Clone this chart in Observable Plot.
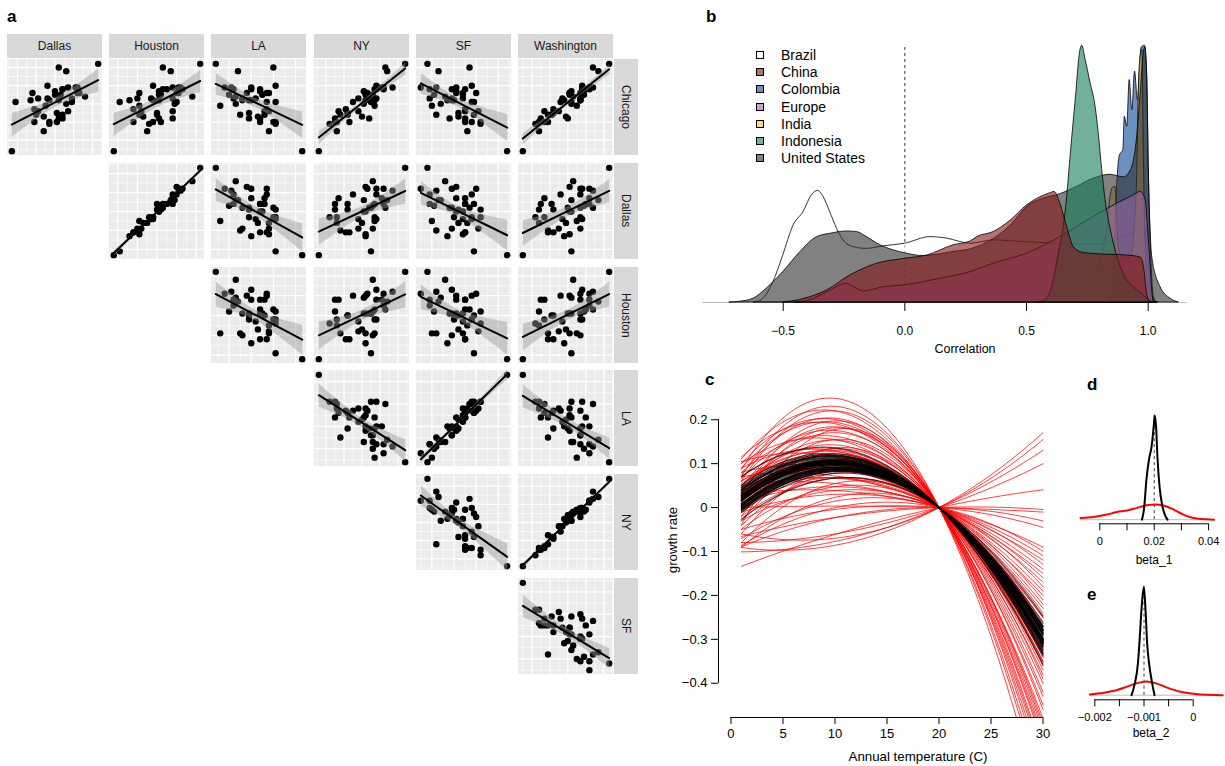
<!DOCTYPE html>
<html>
<head>
<meta charset="utf-8">
<script src="https://cdn.jsdelivr.net/npm/d3@7"></script>
<script src="https://cdn.jsdelivr.net/npm/@observablehq/plot@0.6"></script>
<style>
html,body{margin:0;padding:0;background:#fff;}
#root{position:relative;width:1225px;height:766px;overflow:hidden;font-family:"Liberation Sans",Arial,Helvetica,sans-serif;color:#000;}
.t{position:absolute;white-space:nowrap;line-height:1;}
.strip{position:absolute;background:#D9D9D9;color:#1A1A1A;font-size:12px;display:flex;align-items:center;justify-content:center;}
.letter{position:absolute;font-weight:bold;font-size:17px;line-height:1;font-family:"Liberation Sans",Arial,sans-serif;}
</style>
</head>
<body>
<div id="root"></div>
<script>
// ---------------- Panel a data (yearly values per city) ----------------
const colCities = ["Dallas","Houston","LA","NY","SF","Washington"];
const rowCities = ["Chicago","Dallas","Houston","LA","NY","SF"];
const chicago    = [-2.6,2.2,0.1,0.9,-0.5,1.0,-0.4,0.9,-0.4,0.6,0.3,0.5,-1.5,0.6,0.1,-0.8,2.0,-0.6,0.0,-0.3,0.6,-1.0,0.8,-1.1,0.8,0.7,-0.1,-1.0,0.2,0.5,0.4,-0.7,1.8,-1.0,0.3,-0.6,0.2,0.2,0.8,-0.8,0.3,0.9];
const dallas     = [-2.3,2.3,-2.1,0.7,0.1,-0.4,0.7,1.2,-0.9,1.3,-0.9,0.3,-0.6,-1.2,0.9,0.2,0.2,-1.0,0.6,-1.1,1.2,-0.3,0.4,-0.3,1.2,0.0,-0.5,-1.1,0.2,0.0,1.6,-0.6,0.6,0.1,0.9,0.4,-0.3,-1.3,0.4,0.4,-0.4,1.1];
const houston    = [-2.2,2.2,-1.9,0.8,0.0,-0.2,0.8,1.1,-0.8,1.0,-1.0,0.2,-0.5,-0.9,1.0,0.1,0.3,-0.9,0.9,-1.2,1.1,-0.2,0.5,-0.4,1.3,0.1,-0.9,-1.2,0.1,0.1,1.8,-0.7,0.7,0.2,0.8,0.0,-0.2,-1.4,0.3,0.8,-0.3,1.2];
const la         = [2.3,-1.6,1.1,0.0,-0.1,1.1,0.6,-1.2,0.8,-0.2,-0.4,-1.0,0.8,0.8,0.7,-0.1,1.0,-0.5,-0.7,0.7,0.7,1.0,-0.8,1.1,0.0,0.4,-1.4,0.4,-0.4,0.5,-0.7,0.3,-0.6,1.1,-0.8,0.6,-0.1,0.0,0.4,0.4,0.2,-0.9];
const ny         = [-2.4,2.4,0.5,1.1,-0.8,0.8,-1.3,1.2,-0.2,0.2,0.6,0.6,-1.4,0.2,-0.5,0.4,1.3,-1.2,0.1,-0.9,0.3,-1.4,1.2,-1.8,0.8,0.1,0.7,-0.7,0.5,0.2,0.6,0.0,1.4,-1.5,0.8,-0.8,0.7,0.2,0.7,-1.5,-0.2,1.7];
const sf         = [2.4,-1.2,0.9,0.1,0.2,0.8,0.5,-1.5,1.1,0.1,-0.1,-0.9,0.6,0.4,0.8,-0.2,0.7,-0.8,-0.6,0.5,1.0,0.8,-1.1,1.2,-0.1,0.1,-1.0,0.5,-0.1,0.4,-0.4,0.2,-0.7,1.2,-1.1,0.9,0.0,-0.3,0.5,0.5,0.4,-0.8];
const washington = [-2.5,2.3,0.2,1.2,-0.8,0.8,-1.3,1.2,-0.5,0.1,0.7,0.9,-1.6,0.1,-0.4,0.0,1.4,-1.1,0.2,-0.8,0.7,-1.3,1.2,-1.8,0.8,0.2,0.5,-1.1,0.7,0.1,0.3,-0.1,1.7,-1.6,0.7,-0.9,0.7,-0.2,1.0,-1.5,-0.3,1.4];
const citySeries = {Chicago:chicago, Dallas:dallas, Houston:houston, LA:la, NY:ny, SF:sf, Washington:washington};

// ---------------- Panel b data (density curves of correlation) ----------------
const countries = ["Brazil","China","Colombia","Europe","India","Indonesia","United States"];
const brazilDens = [[-0.62,0],[-0.595,0.05],[-0.54,0.8],[-0.5,1.84],[-0.458,3.0],[-0.416,3.55],[-0.382,4.2],[-0.357,4.37],[-0.334,4.13],[-0.307,3.54],[-0.279,2.89],[-0.252,2.43],[-0.211,2.17],[-0.156,2.1],[-0.087,2.2],[0,2.3],[0.105,2.56],[0.174,2.5],[0.27,2.3],[0.365,2.43],[0.5,2.36],[0.64,2.3],[0.776,2.27],[0.832,2.3],[0.886,2.5],[0.942,2.76],[0.969,3.1],[0.986,2.95],[1.0,1.9],[1.01,0.6],[1.024,0.1],[1.04,0]];
const chinaDens = [[-0.5,0],[-0.43,0.1],[-0.361,0.3],[-0.32,0.47],[-0.224,1.06],[-0.114,1.52],[0,1.71],[0.092,1.84],[0.2,2.24],[0.27,2.39],[0.297,2.56],[0.365,2.76],[0.434,3.2],[0.502,3.8],[0.557,4.12],[0.598,4.28],[0.615,4.33],[0.639,3.87],[0.667,2.95],[0.694,2.17],[0.73,1.95],[0.776,1.9],[0.914,1.84],[0.969,1.76],[0.983,1.37],[0.996,0.33],[1.01,0]];
const colombiaDens = [[0.84,0],[0.86,1.5],[0.873,4.65],[0.884,5.76],[0.898,5.96],[0.904,7.27],[0.914,6.88],[0.924,8.71],[0.935,7.53],[0.946,9.04],[0.958,7.92],[0.973,9.98],[0.987,10.05],[0.996,9.0],[1.003,5.05],[1.013,1.76],[1.024,0.2],[1.035,0]];
const europeDens = [[-0.45,0],[-0.40,0.05],[-0.32,0.4],[-0.238,0.73],[-0.2,0.55],[-0.17,0.43],[-0.087,0.6],[0,0.67],[0.146,0.93],[0.27,1.19],[0.365,1.52],[0.502,1.91],[0.639,2.56],[0.776,3.35],[0.873,3.87],[0.942,4.2],[0.969,4.33],[0.99,4.0],[1.003,2.43],[1.024,0],[1.04,0]];
const indiaDens = [[0.74,0],[0.776,0.6],[0.804,1.64],[0.832,2.95],[0.845,4.12],[0.856,4.5],[0.866,4.52],[0.872,3.5],[0.88,2.2],[0.9,1.6],[0.93,1.8],[0.945,3.0],[0.955,5.0],[0.962,8.5],[0.97,9.7],[0.976,9.9],[0.982,6.0],[0.99,2.0],[1.0,0.8],[1.01,0.2],[1.024,0]];
const indonesiaDens = [[0.54,0],[0.578,0.08],[0.612,0.86],[0.633,1.9],[0.653,2.95],[0.667,4.12],[0.681,5.7],[0.702,7.9],[0.722,9.9],[0.729,10.05],[0.743,9.5],[0.763,8.6],[0.784,7.66],[0.797,6.6],[0.811,5.2],[0.825,4.0],[0.845,2.9],[0.87,1.9],[0.9,1.1],[0.94,0.6],[0.98,0.3],[1.0,0.1],[1.02,0]];
const usDens = [[-0.72,0],[-0.677,0.03],[-0.622,0.15],[-0.567,0.55],[-0.5,1.19],[-0.43,1.97],[-0.361,2.56],[-0.307,2.69],[-0.238,2.78],[-0.197,2.76],[-0.156,2.56],[-0.101,2.24],[-0.046,2.04],[0.009,1.91],[0.071,1.82],[0.14,1.88],[0.2,1.98],[0.27,2.08],[0.365,2.49],[0.434,3.0],[0.502,3.74],[0.571,4.07],[0.639,4.24],[0.708,4.53],[0.776,4.85],[0.845,5.0],[0.9,4.9],[0.93,5.2],[0.955,6.5],[0.97,8.3],[0.98,9.6],[0.988,10.0],[0.996,8.7],[1.003,5.05],[1.017,1.76],[1.051,0.6],[1.092,0.15],[1.126,0]];
const corrTicks = [-0.5,0,0.5,1];
const corrRange = [-0.83,1.16];

// ---------------- Panel c data (fitted coefficients) ----------------
const redBeta1 = [0.0428,0.0409,0.0407,0.0320,0.0345,0.0387,0.0350,0.0295,0.0362,0.0296,0.0243,0.0351,0.0290,0.0239,0.0295,0.0244,0.0310,0.0184,0.0250,0.0315,0.0190,0.0214,0.0248,0.0182,0.0143,0.0254,0.0196,0.0148,0.0268,0.0161,0.0086,0.0192,0.0126,0.0159,0.0197,0.0072,0.0115,0.0212,0.0087,0.0143,0.0045,0.0092,0.0158,0.0042,0.0089,0.0150,0.0038,0.0078,0.0103,0.0007,0.0063,0.0092,0.0000,-0.0003,-0.0058,-0.0041,0.0221,0.0159,0.0253,0.0197,0.0192,0.0212,0.0215,0.0167,0.0414,0.0485,0.0293,0.0338];
const redBeta2 = [-0.002256,-0.002098,-0.002015,-0.001800,-0.001829,-0.001895,-0.001780,-0.001630,-0.001724,-0.001572,-0.001446,-0.001622,-0.001479,-0.001338,-0.001430,-0.001289,-0.001399,-0.001129,-0.001240,-0.001350,-0.001080,-0.001109,-0.001156,-0.001004,-0.000906,-0.001107,-0.000973,-0.000857,-0.001076,-0.000842,-0.000672,-0.000864,-0.000711,-0.000759,-0.000815,-0.000544,-0.000610,-0.000784,-0.000514,-0.000606,-0.000390,-0.000465,-0.000575,-0.000323,-0.000397,-0.000499,-0.000256,-0.000246,-0.000267,-0.0000345,-0.000135,-0.000103,0.000200,0.000267,0.000426,0.000423,-0.001102,-0.000858,-0.001207,-0.001015,-0.001064,-0.000984,-0.001151,-0.000835,-0.002149,-0.002210,-0.001646,-0.001695];
const blackBeta1 = [0.0200,0.0195,0.0205,0.0198,0.0203,0.0190,0.0210,0.0201,0.0197,0.0206,0.0193,0.0208,0.0199,0.0202,0.0188,0.0212,0.0196,0.0204,0.0200,0.0194,0.0207,0.0198,0.0201,0.0191,0.0209,0.0203,0.0197,0.0205,0.0199,0.0202,0.0196,0.0201,0.0204,0.0198,0.0200,0.0194,0.0203,0.0192,0.0207,0.0199,0.0202,0.0195,0.0206,0.0200,0.0197];
const blackBeta2 = [-0.00100,-0.00104,-0.00097,-0.00106,-0.00095,-0.00099,-0.00102,-0.00093,-0.00101,-0.00108,-0.00096,-0.00100,-0.00103,-0.00098,-0.00092,-0.00105,-0.00099,-0.00101,-0.00094,-0.00102,-0.00097,-0.00107,-0.00100,-0.00098,-0.00103,-0.00096,-0.00101,-0.00099,-0.00105,-0.00097,-0.00100,-0.00102,-0.00098,-0.00095,-0.00101,-0.00110,-0.00090,-0.00100,-0.00104,-0.00099,-0.00101,-0.00103,-0.00098,-0.00102,-0.00100];
const refTemp = 20;
const tempRange = [1,30];
const tempTicks = [0,5,10,15,20,25,30];
const growthTicks = [-0.4,-0.3,-0.2,-0.1,0,0.1,0.2];

// ---------------- Panels d, e data (densities of coefficients) ----------------
const beta1Black = [[0.0155,0],[0.0163,45],[0.0171,149],[0.0181,233],[0.0190,278],[0.0198,356],[0.0202,401],[0.0207,356],[0.0212,239],[0.0220,123],[0.0229,58],[0.0239,19],[0.0249,0]];
const beta1Red = [[-0.0071,6.5],[-0.0022,10.3],[0.0027,19.4],[0.0063,29.7],[0.0100,34.9],[0.0137,45.3],[0.0173,55.6],[0.0204,58.2],[0.0234,54.3],[0.0271,38.8],[0.0307,19.4],[0.0344,6.5],[0.0393,1.3],[0.0420,0]];
const beta2Black = [[-0.001254,0],[-0.001193,762],[-0.001125,2286],[-0.001085,4318],[-0.001051,6350],[-0.001003,8000],[-0.00097,6350],[-0.000936,3810],[-0.000895,2286],[-0.000841,1016],[-0.000786,0]];
const beta2Red = [[-0.0021,51],[-0.001817,178],[-0.001546,381],[-0.001342,635],[-0.001139,889],[-0.000949,1016],[-0.000766,889],[-0.000529,559],[-0.000258,254],[0.000014,102],[0.000285,25],[0.0006,0]];
const beta1True = 0.02, beta2True = -0.001;
const beta1Ticks = [0,0.01,0.02,0.03,0.04];
const beta1Labels = ["0","","0.02","","0.04"];
const beta2Ticks = [-0.002,-0.0015,-0.001,-0.0005,0];
const beta2Labels = ["\u22120.002","","\u22120.001","","0"];

// ================= drawing =================
const root = document.getElementById("root");
const FONT = '"Liberation Sans",Arial,Helvetica,sans-serif';
function put(svg, left, top) {
  svg.style.position = "absolute";
  svg.style.left = left + "px";
  svg.style.top = top + "px";
  svg.style.overflow = "visible";
  root.appendChild(svg);
  return svg;
}
function label(str, cx, cy, size, extra) {
  const d = document.createElement("div");
  d.className = "t";
  d.textContent = str;
  d.style.left = cx + "px";
  d.style.top = cy + "px";
  d.style.fontSize = size + "px";
  d.style.transform = "translate(-50%,-50%)" + (extra || "");
  root.appendChild(d);
  return d;
}
function letter(str, left, top) {
  const d = document.createElement("div");
  d.className = "letter";
  d.textContent = str;
  d.style.left = left + "px";
  d.style.top = top + "px";
  root.appendChild(d);
}

// ---- panel a ----
const colLeft = [7,109,211,314,416,518];
const rowTop = [59,163,267,370,474,578];
const cellW = 95, cellH = 96;
function expand5(ext){const r = ext[1]-ext[0]; return [ext[0]-0.05*r, ext[1]+0.05*r];}
function minorTicks(major, dom){
  const step = major[1]-major[0], out = [];
  for (let v = major[0]-step/2; v <= dom[1]; v += step) if (v >= dom[0]) out.push(v);
  return out;
}
function cell(xs, ys){
  const pts = xs.map((x,i)=>({x, y: ys[i]}));
  const xd = expand5(d3.extent(xs)), yd = expand5(d3.extent(ys));
  const xM = d3.ticks(xd[0], xd[1], 4), yM = d3.ticks(yd[0], yd[1], 4);
  return Plot.plot({
    width: cellW, height: cellH, margin: 0,
    x: {domain: xd, axis: null}, y: {domain: yd, axis: null},
    style: {background: "#EBEBEB", overflow: "visible"},
    marks: [
      Plot.ruleX(minorTicks(xM, xd), {stroke: "#fff", strokeWidth: 0.6}),
      Plot.ruleY(minorTicks(yM, yd), {stroke: "#fff", strokeWidth: 0.6}),
      Plot.ruleX(xM, {stroke: "#fff", strokeWidth: 1.3}),
      Plot.ruleY(yM, {stroke: "#fff", strokeWidth: 1.3}),
      Plot.dot(pts, {x: "x", y: "y", r: 3.2, fill: "#000"}),
      Plot.linearRegressionY(pts, {x: "x", y: "y", stroke: "#000", strokeWidth: 2, fill: "#999", fillOpacity: 0.45, clip: true})
    ]
  });
}
rowCities.forEach((rc, j) => {
  colCities.forEach((cc, i) => {
    if (i < j) return;
    put(cell(citySeries[cc], citySeries[rc]), colLeft[i], rowTop[j]);
  });
});
colCities.forEach((cc, i) => {
  const s = document.createElement("div");
  s.className = "strip";
  s.style.cssText += `left:${colLeft[i]}px;top:34px;width:${cellW}px;height:24px;`;
  s.textContent = cc;
  root.appendChild(s);
});
rowCities.forEach((rc, j) => {
  const s = document.createElement("div");
  s.className = "strip";
  s.style.cssText += `left:614px;top:${rowTop[j]}px;width:24px;height:${cellH}px;`;
  const sp = document.createElement("span");
  sp.style.writingMode = "vertical-rl";
  sp.textContent = rc;
  s.appendChild(sp);
  root.appendChild(s);
});

// ---- panel b ----
const densB = {"Brazil": brazilDens, "China": chinaDens, "Colombia": colombiaDens, "Europe": europeDens, "India": indiaDens, "Indonesia": indonesiaDens, "United States": usDens};
const fillB = {"Brazil": "#FFFFFF", "China": "#821414", "Colombia": "#0A4696", "Europe": "#9664A0", "India": "#F5BE28", "Indonesia": "#147D55", "United States": "#2D2D2D"};
const legendB = {"Brazil": "#FFFFFF", "China": "#B46E6E", "Colombia": "#6C90C0", "Europe": "#CCA2CC", "India": "#F9D87E", "Indonesia": "#72B199", "United States": "#818181"};
const drawOrder = ["Brazil","Colombia","India","United States","Europe","Indonesia","China"];
const maxDens = d3.max(countries, c => d3.max(densB[c], d => d[1]));
const bPlot = Plot.plot({
  width: 500, height: 332, marginLeft: 0, marginRight: 0, marginTop: 0, marginBottom: 60,
  x: {domain: [-0.881, 1.174], ticks: corrTicks, tickFormat: d3.format(".1f"), tickSize: 9, tickPadding: 15, label: null},
  y: {domain: [0, 10.65], axis: null},
  style: {fontSize: "12px", fontFamily: FONT, background: "transparent", overflow: "visible"},
  marks: [
    Plot.ruleY([0], {x1: corrRange[0], x2: corrRange[1], stroke: "#BEBEBE", strokeWidth: 1}),
    Plot.ruleX([0], {y1: 0, y2: maxDens, stroke: "#000", strokeWidth: 0.8, strokeDasharray: "3,3"}),
    ...drawOrder.map(c => Plot.areaY(densB[c], {x: d => d[0], y: d => d[1], fill: fillB[c], fillOpacity: 0.6, stroke: "#000", strokeWidth: 0.8, curve: "monotone-x"}))
  ]
});
put(bPlot, 690, 30);
countries.forEach((c, k) => {
  const y = 55 + k * 17.2;
  const box = document.createElement("div");
  box.style.cssText = `position:absolute;left:756px;top:${y-4}px;width:8px;height:8px;box-sizing:border-box;border:1px solid #000;background:${legendB[c]};`;
  root.appendChild(box);
  const t = document.createElement("div");
  t.className = "t";
  t.textContent = c;
  t.style.cssText += `left:781px;top:${y}px;font-size:14px;transform:translateY(-50%);`;
  root.appendChild(t);
});
label("Correlation", 965, 349, 12.5);

// ---- panel c ----
const temps = d3.range(tempRange[0], tempRange[1] + 0.001, 0.25);
function curves(b1s, b2s){
  return b1s.flatMap((b1, k) => temps.map(T => ({k, T, g: b1 * (T - refTemp) + b2s[k] * (T * T - refTemp * refTemp)})));
}
const cX = [-1.2, 31.2], cY = [-0.478, 0.278];
const cPlot = Plot.plot({
  width: 400, height: 391, marginLeft: 58, marginRight: 5, marginTop: 10, marginBottom: 49,
  x: {domain: cX, ticks: tempTicks, tickSize: 7, tickPadding: 4, label: null},
  y: {domain: cY, ticks: growthTicks, tickSize: 7, tickPadding: 4, label: null, tickFormat: d => d === 0 ? "0" : d3.format(".1f")(d)},
  style: {fontSize: "13px", fontFamily: FONT, background: "transparent", overflow: "visible"},
  marks: [
    Plot.line(curves(redBeta1, redBeta2), {x: "T", y: "g", z: "k", stroke: "#FF0000", strokeWidth: 0.9, strokeOpacity: 0.85, clip: true}),
    Plot.line(curves(blackBeta1, blackBeta2), {x: "T", y: "g", z: "k", stroke: "#000", strokeWidth: 1.2, strokeOpacity: 0.7, clip: true}),
    Plot.ruleX([cX[0]], {y1: growthTicks[0], y2: growthTicks[growthTicks.length-1], stroke: "#000"}),
    Plot.ruleY([cY[0]], {x1: tempTicks[0], x2: tempTicks[tempTicks.length-1], stroke: "#000"})
  ]
});
put(cPlot, 660, 375);
label("Annual temperature (C)", 918, 757, 13.3);
label("growth rate", 673, 540, 13.3, " rotate(-90deg)");

// ---- panels d, e ----
function densPanel(black, red, truth, ticks, labels, xdom, ydom, mt, mb){
  const ext = d3.extent([...black, ...red], d => d[0]);
  return Plot.plot({
    width: 159, height: 170, marginLeft: 10, marginRight: 7, marginTop: mt, marginBottom: mb,
    x: {domain: xdom, ticks: ticks, tickSize: 7, tickPadding: 6, label: null, tickFormat: d => labels[ticks.indexOf(d)]},
    y: {domain: ydom, axis: null},
    style: {fontSize: "11px", fontFamily: FONT, background: "transparent", overflow: "visible"},
    marks: [
      Plot.ruleY([0], {x1: ext[0], x2: ext[1], stroke: "#BEBEBE"}),
      Plot.ruleX([truth], {y1: 0, y2: d3.max(black, d => d[1]), stroke: "#000", strokeWidth: 0.8, strokeDasharray: "3,3"}),
      Plot.line(red, {x: d => d[0], y: d => d[1], stroke: "#FF0000", strokeWidth: 2, curve: "monotone-x"}),
      Plot.line(black, {x: d => d[0], y: d => d[1], stroke: "#000", strokeWidth: 2, curve: "monotone-x"}),
      Plot.ruleY([ydom[0]], {x1: ticks[0], x2: ticks[ticks.length-1], stroke: "#000"})
    ]
  });
}
put(densPanel(beta1Black, beta1Red, beta1True, beta1Ticks, beta1Labels, [-0.00857, 0.04364], [-16, 416], 11, 46.7), 1066, 400);
label("beta_1", 1154, 560, 12);
put(densPanel(beta2Black, beta2Red, beta2True, beta2Ticks, beta2Labels, [-0.002372, 0.000514], [-340, 8160], 9, 45.7), 1066, 575);
label("beta_2", 1151, 733, 12);

// ---- panel letters ----
letter("a", 7, 8);
letter("b", 706, 8);
letter("c", 705, 371);
letter("d", 1087, 376);
letter("e", 1087, 586);
</script>
</body>
</html>
